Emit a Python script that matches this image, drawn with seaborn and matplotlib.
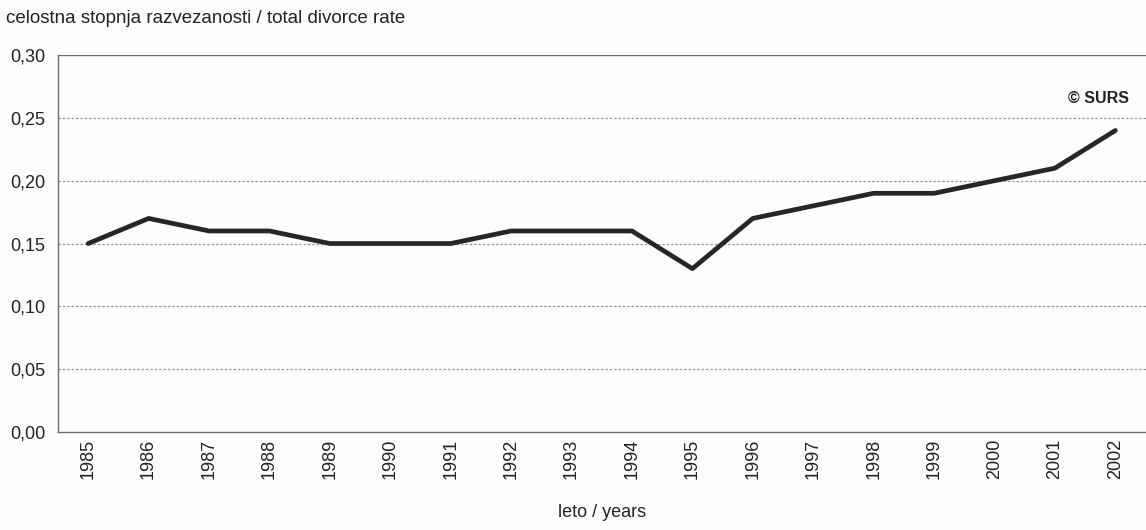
import matplotlib
matplotlib.use("Agg")
import matplotlib.pyplot as plt
import seaborn as sns
import pandas as pd
import numpy as np
from matplotlib.ticker import FixedLocator, FuncFormatter

sns.set_style("white")
plt.rcParams["font.family"] = ["Liberation Sans", "DejaVu Sans"]
plt.rcParams["font.size"] = 13

years = [str(y) for y in range(1985, 2003)]
rate = [0.15, 0.17, 0.16, 0.16, 0.15, 0.15, 0.15, 0.16, 0.16, 0.16,
        0.13, 0.17, 0.18, 0.19, 0.19, 0.20, 0.21, 0.24]

df = pd.DataFrame({"pos": np.arange(len(years)), "rate": rate})

fig = plt.figure(figsize=(11.46, 5.30), dpi=100)
fig.patch.set_facecolor("#fdfdfd")
ax = fig.add_axes([0.0506, 0.185, 0.949, 0.711])
ax.set_facecolor("#fdfdfd")

sns.lineplot(data=df, x="pos", y="rate", ax=ax, color="#262626", lw=3.4, zorder=5)

ax.set_xlim(-0.5, len(years) - 0.5)
ax.set_ylim(0, 0.30)
ax.set_yticks(np.arange(0, 0.301, 0.05))
ax.yaxis.set_major_formatter(FuncFormatter(lambda v, p: f"{v:.2f}".replace(".", ",")))
for v in np.arange(0.05, 0.30, 0.05):
    ax.axhline(v, color="#9a93a6", lw=0.9, ls=(0, (2, 1.5)), zorder=1)
ax.axhline(0.30, color="#6e6874", lw=1.0, zorder=1)

ax.set_xticks(df["pos"])
ax.set_xticklabels(years, rotation=90)
ax.xaxis.set_minor_locator(FixedLocator(np.arange(-0.5, len(years), 1.0)))
ax.tick_params(axis="x", which="major", length=0, pad=5, labelsize=13, colors="#222")
ax.tick_params(axis="x", which="minor", length=4, color="#6e6874", direction="out")
ax.tick_params(axis="y", length=6, labelsize=13, pad=3)
ax.tick_params(axis="y", colors="#6e6874", labelcolor="#222")

for s in ["top", "right"]:
    ax.spines[s].set_visible(False)
for s in ["left", "bottom"]:
    ax.spines[s].set_color("#6e6874")
    ax.spines[s].set_linewidth(1.0)

ax.set_xlabel("leto / years", fontsize=13, color="#222", labelpad=18)
ax.set_ylabel("")
fig.text(0.005, 0.966, "celostna stopnja razvezanosti / total divorce rate",
         fontsize=13.5, color="#222", va="center", ha="left")
ax.text(0.985, 0.885, "© SURS", transform=ax.transAxes, fontsize=11.5,
        color="#222", ha="right", va="center", weight="bold")

plt.savefig("out.png", dpi=100, facecolor=fig.get_facecolor())
